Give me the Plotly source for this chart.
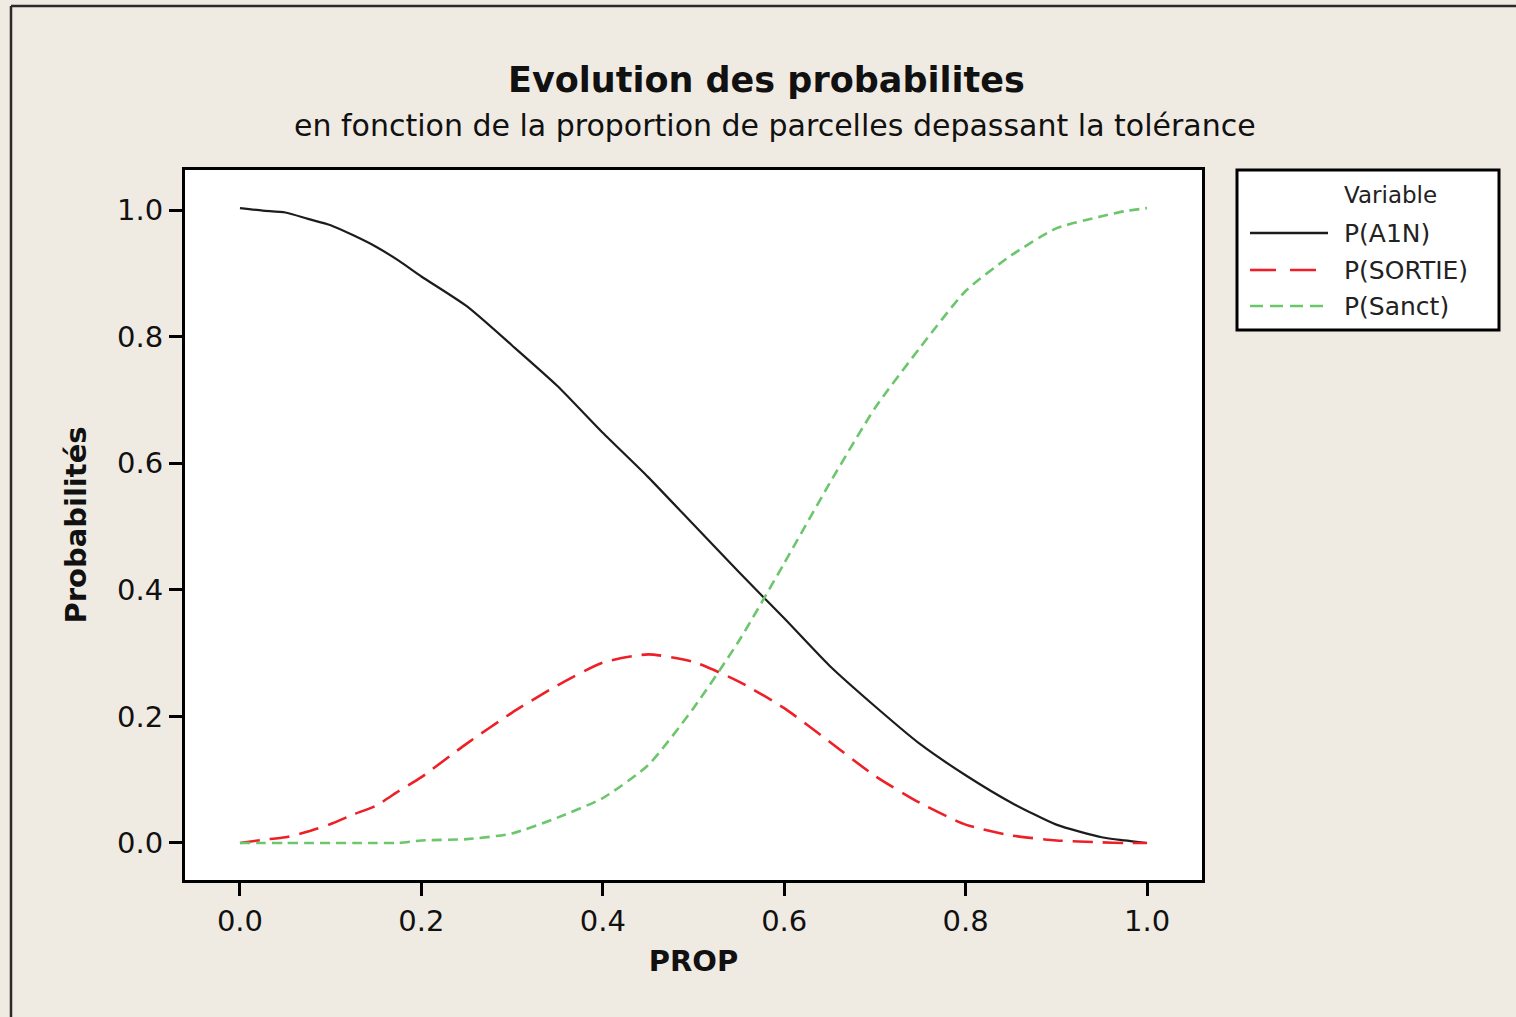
import plotly.graph_objects as go

# Proportion of plots exceeding the tolerance
prop = [0.00, 0.025, 0.05, 0.075, 0.10, 0.125, 0.15, 0.175, 0.20, 0.25, 0.30, 0.35,
        0.40, 0.45, 0.50, 0.55, 0.60, 0.65, 0.70, 0.75, 0.80, 0.85, 0.90, 0.95,
        0.975, 1.00]

p_a1n = [1.003, 0.999, 0.996, 0.986, 0.976, 0.960, 0.942, 0.920, 0.895, 0.848, 0.786,
         0.722, 0.648, 0.578, 0.503, 0.428, 0.355, 0.280, 0.216, 0.156, 0.107, 0.064,
         0.029, 0.009, 0.004, 0.000]

p_sortie = [0.000, 0.005, 0.009, 0.018, 0.030, 0.045, 0.059, 0.082, 0.104, 0.157, 0.206,
            0.249, 0.285, 0.298, 0.286, 0.255, 0.213, 0.160, 0.106, 0.063, 0.029, 0.012,
            0.004, 0.001, 0.000, 0.000]

p_sanct = [0.000, 0.000, 0.000, 0.000, 0.000, 0.000, 0.000, 0.000, 0.004, 0.006, 0.015,
           0.040, 0.071, 0.123, 0.213, 0.319, 0.442, 0.568, 0.687, 0.783, 0.872, 0.928,
           0.971, 0.990, 0.998, 1.003]

tick_vals = [0.0, 0.2, 0.4, 0.6, 0.8, 1.0]
tick_text = ["0.0", "0.2", "0.4", "0.6", "0.8", "1.0"]

series_names = ["P(A1N)", "P(SORTIE)", "P(Sanct)"]
series_colors = ["#1c1c1c", "#ee1f26", "#6cc66c"]
series_dash = ["solid", "20px,10px", "10px,6px"]
series_width = [2.2, 2.6, 2.6]

W, H = 1516, 1017
L, R, T, B = 185, 1202, 170, 880   # plot area edges in pixels
FONT = "DejaVu Sans"
BEIGE = "#f0ebe2"


def px(x):
    return (x - L) / (R - L)


def py(y):
    return (B - y) / (B - T)


fig = go.Figure()
for ys, name, col, dash, w in zip([p_a1n, p_sortie, p_sanct], series_names,
                                  series_colors, series_dash, series_width):
    fig.add_trace(go.Scatter(
        x=prop, y=ys, name=name, mode="lines",
        line=dict(color=col, dash=dash, width=w, shape="spline", smoothing=0.6),
        showlegend=False,
    ))

axis_common = dict(
    showgrid=False, zeroline=False, showline=True, mirror=True,
    linecolor="black", linewidth=3,
    ticks="outside", ticklen=13, tickwidth=3, tickcolor="black",
    tickvals=tick_vals, ticktext=tick_text,
    tickfont=dict(family=FONT, size=29, color="#111"),
)

fig.update_layout(
    width=W, height=H,
    margin=dict(l=L, r=W - R, t=T, b=H - B),
    paper_bgcolor=BEIGE, plot_bgcolor="white",
    font=dict(family=FONT, color="#111"),
    xaxis=dict(range=[-0.0606, 1.0606],
               title=dict(text="<b>PROP</b>", font=dict(family=FONT, size=29), standoff=14),
               **axis_common),
    yaxis=dict(range=[-0.0585, 1.0632],
               title=dict(text="<b>Probabilités</b>", font=dict(family=FONT, size=29), standoff=22),
               **axis_common),
)

# Titles
fig.add_annotation(text="<b>Evolution des probabilites</b>", xref="paper", yref="paper",
                   x=px(766), y=py(80), showarrow=False, xanchor="center", yanchor="middle",
                   font=dict(family=FONT, size=35, color="#111"))
fig.add_annotation(text="en fonction de la proportion de parcelles depassant la tolérance",
                   xref="paper", yref="paper", x=px(775), y=py(125), showarrow=False,
                   xanchor="center", yanchor="middle",
                   font=dict(family=FONT, size=30, color="#111"))

# Outer frame (top and left edges)
fig.add_shape(type="line", xref="paper", yref="paper", x0=px(11), x1=px(1530),
              y0=py(6), y1=py(6), line=dict(color="#2a2a2a", width=2.5))
fig.add_shape(type="line", xref="paper", yref="paper", x0=px(11), x1=px(11),
              y0=py(6), y1=py(1030), line=dict(color="#2a2a2a", width=2.5))

# Legend box
fig.add_shape(type="rect", xref="paper", yref="paper", x0=px(1237), x1=px(1499),
              y0=py(330), y1=py(170), fillcolor="white", line=dict(color="black", width=3))
fig.add_annotation(text="Variable", xref="paper", yref="paper", x=px(1342), y=py(195),
                   showarrow=False, xanchor="left", yanchor="middle",
                   font=dict(family=FONT, size=23, color="#222"))
for i, (name, col) in enumerate(zip(series_names, series_colors)):
    yrow = [233, 270, 306][i]
    fig.add_shape(type="line", xref="paper", yref="paper", x0=px(1250), x1=px(1328),
                  y0=py(yrow), y1=py(yrow),
                  line=dict(color=col, width=2.6,
                            dash=["solid", "26px,14px", "13px,7px"][i]))
    fig.add_annotation(text=name, xref="paper", yref="paper", x=px(1342), y=py(yrow),
                       showarrow=False, xanchor="left", yanchor="middle",
                       font=dict(family=FONT, size=25, color="#222"))

fig.write_html("out.html")
